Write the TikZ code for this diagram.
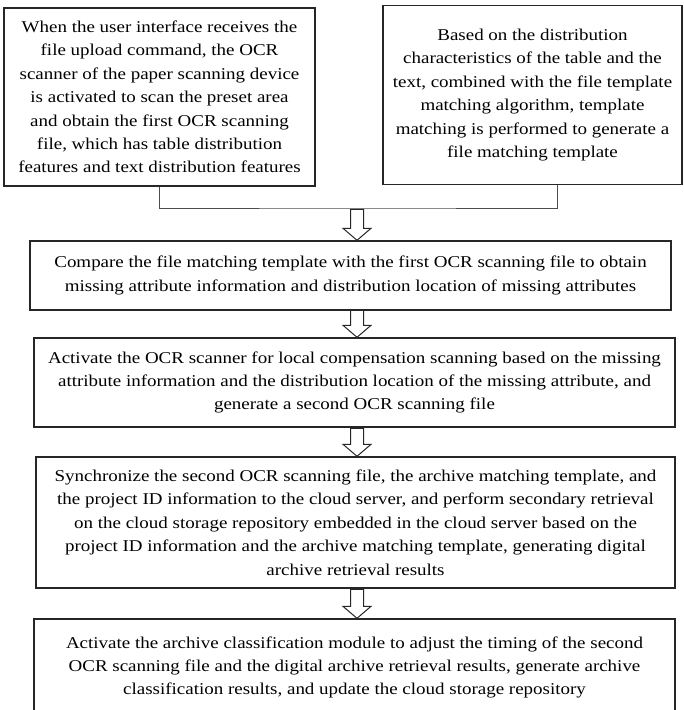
\documentclass[tikz,border=0pt]{standalone}
\usepackage{fontspec}
\setmainfont{Liberation Serif}[FakeStretch=1.15]
\usetikzlibrary{calc}
\begin{document}
\begin{tikzpicture}[x=1pt,y=-1pt,
  box/.style={draw=black!85, line width=1.4pt, align=center, inner sep=0pt,
    font=\fontsize{16.5}{23.4}\selectfont},
  link/.style={draw=black!70, line width=0.9pt},
  harrow/.pic={\draw[line width=1pt, draw=black!85, fill=white]
    (-6.5,-#1) -- (-6.5,-12) -- (-14,-12) -- (0,0) -- (14,-12) -- (6.5,-12) -- (6.5,-#1) -- cycle;}
]
\useasboundingbox (0,0) rectangle (684,710);

\node[box, minimum width=311pt, minimum height=178pt] (l) at (159.5,97)
 {When the user interface receives the\\ file upload command, the OCR\\ scanner of the paper scanning device\\ is activated to scan the preset area\\ and obtain the first OCR scanning\\ file, which has table distribution\\ features and text distribution features};
\node[box, minimum width=299pt, minimum height=179pt] (r) at (532.5,95)
 {Based on the distribution\\ characteristics of the table and the\\ text, combined with the file template\\ matching algorithm, template\\ matching is performed to generate a\\ file matching template};

\node[box, minimum width=641pt, minimum height=69pt] (c) at (350.5,275.5)
 {Compare the file matching template with the first OCR scanning file to obtain\\ missing attribute information and distribution location of missing attributes};
\node[box, minimum width=641pt, minimum height=89pt] (a) at (354.5,382.5)
 {Activate the OCR scanner for local compensation scanning based on the missing\\ attribute information and the distribution location of the missing attribute, and\\ generate a second OCR scanning file};
\node[box, minimum width=639pt, minimum height=131pt] (s) at (355.5,522.5)
 {Synchronize the second OCR scanning file, the archive matching template, and\\ the project ID information to the cloud server, and perform secondary retrieval\\ on the cloud storage repository embedded in the cloud server based on the\\ project ID information and the archive matching template, generating digital\\ archive retrieval results};
\node[box, minimum width=641pt, minimum height=97pt] (f) at (354.5,667.5)
 {Activate the archive classification module to adjust the timing of the second\\ OCR scanning file and the digital archive retrieval results, generate archive\\ classification results, and update the cloud storage repository};

\coordinate (ax) at (357,0);
\coordinate (rj) at (557,0);
\coordinate (mid) at (357,208);
\draw[link] (l.south) |- (mid) -| (r.south -| rj);

\pic at (c.north -| ax) {harrow=31};
\pic at (a.north -| ax) {harrow=27};
\pic at (s.north -| ax) {harrow=28};
\pic at (f.north -| ax) {harrow=29};
\end{tikzpicture}
\end{document}
